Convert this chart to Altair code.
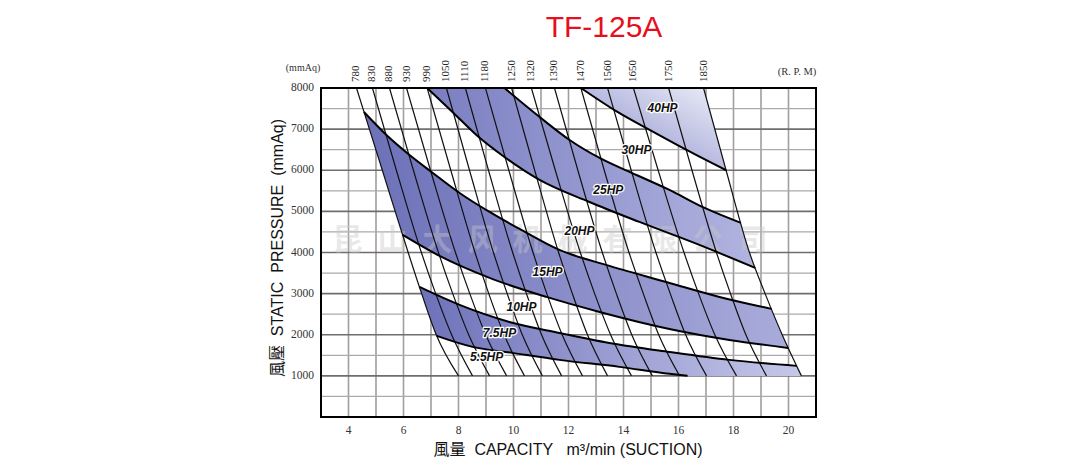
import altair as alt
import pandas as pd

# ---------------- data ----------------
title_text = "TF-125A"
x_title = "風量\u00a0\u00a0CAPACITY\u00a0\u00a0\u00a0m³/min (SUCTION)"
y_title = "風壓\u00a0\u00a0STATIC\u00a0\u00a0PRESSURE\u00a0\u00a0(mmAq)"

rpm_labels = [780, 830, 880, 930, 990, 1050, 1110, 1180, 1250, 1320, 1390, 1470, 1560, 1650, 1750, 1850]
rpm_y = [8000, 6000, 4000, 3000, 2000, 1000]
rpm_x = [
    [4.29, 5.23, 6.17, 6.66, 7.19, 8.00],
    [4.87, 5.74, 6.65, 7.17, 7.75, 8.51],
    [5.49, 6.36, 7.27, 7.79, 8.37, 9.13],
    [6.11, 6.98, 7.89, 8.41, 8.99, 9.75],
    [6.86, 7.72, 8.60, 9.10, 9.66, 10.40],
    [7.56, 8.40, 9.27, 9.77, 10.32, 11.05],
    [8.25, 9.09, 9.97, 10.47, 11.02, 11.75],
    [8.98, 9.83, 10.71, 11.21, 11.77, 12.51],
    [9.93, 10.77, 11.64, 12.14, 12.69, 13.42],
    [10.65, 11.52, 12.43, 12.95, 13.53, 14.29],
    [11.49, 12.34, 13.23, 13.74, 14.30, 15.05],
    [12.45, 13.30, 14.20, 14.72, 15.28, 16.04],
    [13.42, 14.28, 15.18, 15.70, 16.26, 17.02],
    [14.36, 15.26, 16.20, 16.73, 17.32, 18.11],
    [15.64, 16.49, 17.38, 17.89, 18.45, 19.20],
    [16.91, 17.73, 18.58, 19.15, 19.77, 20.47],
]

hp40_lo_x = [12.45, 13.78, 14.95, 16.29, 17.73]
hp40_lo_y = [8000, 7417, 6979, 6493, 6000]
hp25_up_x = [9.67, 10.95, 12.04, 13.13, 14.47, 15.67, 16.95, 18.27]
hp25_up_y = [8000, 7295, 6736, 6299, 5885, 5521, 5083, 4719]
hp25_lo_x = [6.86, 7.78, 8.65, 9.67, 10.95, 12.76, 14.58, 16.76, 18.79]
hp25_lo_y = [8000, 7417, 6858, 6323, 5764, 5229, 4743, 4184, 3625]
hp15_up_x = [4.56, 5.38, 6.22, 7.02, 8.04, 9.13, 10.22, 11.67, 13.49, 15.67, 17.49, 19.38]
hp15_up_y = [7417, 6858, 6371, 5958, 5448, 4986, 4573, 4062, 3674, 3260, 2920, 2629]
hp15_lo_x = [5.97, 7.31, 9.13, 11.20, 13.13, 15.67, 17.85, 19.99]
hp15_lo_y = [4427, 3917, 3382, 2920, 2555, 2142, 1875, 1680]
hp7_up_x = [6.58, 8.04, 9.85, 11.67, 13.49, 15.67, 17.85, 20.30]
hp7_up_y = [3163, 2726, 2312, 2045, 1802, 1583, 1389, 1243]
hp7_lo_x = [7.21, 8.51, 9.96, 11.67, 13.85, 15.67, 16.33]
hp7_lo_y = [1972, 1705, 1559, 1389, 1219, 1049, 1000]

hp_labels = ["40HP", "30HP", "25HP", "20HP", "15HP", "10HP", "7.5HP", "5.5HP"]
hp_label_x = [15.42, 14.47, 13.45, 12.40, 11.24, 10.29, 9.49, 9.02]
hp_label_y = [7514, 6493, 5521, 4524, 3527, 2677, 2045, 1462]

x_ticks = [4, 6, 8, 10, 12, 14, 16, 18, 20]
y_ticks = [1000, 2000, 3000, 4000, 5000, 6000, 7000, 8000]
x_grid = list(range(4, 21))
y_grid_minor = [500, 1500, 2500, 3500, 4500, 5500, 6500, 7500]

watermark = "昆\u2002山\u2002大\u2002风\u2002机\u2002械\u2002有\u2002限\u2002公\u2002司"

# ---------------- tables ----------------
W, H = 495, 329
xs = alt.Scale(domain=[3, 21], nice=False, zero=False)
ys = alt.Scale(domain=[0, 8000], nice=False, zero=False)

rpm_rows = []
for lab, xsr in zip(rpm_labels, rpm_x):
    for k, (xv, yv) in enumerate(zip(xsr, rpm_y)):
        rpm_rows.append({"rpm": lab, "ord": k, "x": xv, "y": yv})
rpm_df = pd.DataFrame(rpm_rows)
rpm_top_df = pd.DataFrame({"rpm": [str(r) for r in rpm_labels], "x": [r[0] for r in rpm_x]})

curves = {
    "c40lo": (hp40_lo_x, hp40_lo_y), "c25up": (hp25_up_x, hp25_up_y),
    "c25lo": (hp25_lo_x, hp25_lo_y), "c15up": (hp15_up_x, hp15_up_y),
    "c15lo": (hp15_lo_x, hp15_lo_y), "c7up": (hp7_up_x, hp7_up_y),
    "c7lo": (hp7_lo_x, hp7_lo_y),
}
curve_rows = []
for name, (cx, cy) in curves.items():
    for k, (xv, yv) in enumerate(zip(cx, cy)):
        curve_rows.append({"curve": name, "ord": k, "x": xv, "y": yv})
curve_df = pd.DataFrame(curve_rows)


def line_pts(i, ylo, yhi):
    return [(xv, yv) for xv, yv in zip(rpm_x[i], rpm_y) if ylo < yv < yhi]


LO, HI = 0, len(rpm_labels) - 1
band40 = [(rpm_x[HI][0], 8000)] + line_pts(HI, 6000, 8000) + list(zip(hp40_lo_x, hp40_lo_y))[::-1]
band25 = list(zip(hp25_up_x, hp25_up_y)) + line_pts(HI, 3625, 4719) + list(zip(hp25_lo_x, hp25_lo_y))[::-1]
band15 = (list(zip(hp15_up_x, hp15_up_y)) + line_pts(HI, 1680, 2629)
          + list(zip(hp15_lo_x, hp15_lo_y))[::-1] + line_pts(LO, 4427, 7417)[::-1])
band7 = (list(zip(hp7_up_x, hp7_up_y)) + line_pts(HI, 999, 1243)
         + list(zip(hp7_lo_x, hp7_lo_y))[::-1] + line_pts(LO, 1972, 3163)[::-1])


def poly_df(pts):
    return pd.DataFrame([{"ord": k, "x": xv, "y": yv} for k, (xv, yv) in enumerate(pts)])


def grad(c0, c1, x1=0, y1=0, x2=1, y2=0):
    return alt.Gradient(gradient="linear",
                        stops=[alt.GradientStop(offset=0, color=c0), alt.GradientStop(offset=1, color=c1)],
                        x1=x1, y1=y1, x2=x2, y2=y2)


def X():
    return alt.X("x:Q", scale=xs, axis=None)


def Y():
    return alt.Y("y:Q", scale=ys, axis=None)


one = pd.DataFrame({"t": [""]})
SERIF = "Liberation Serif"
SANS_CJK = "Liberation Sans, Noto Sans CJK TC"

# ---------------- layers ----------------
vgrid = alt.Chart(pd.DataFrame({"x": x_grid})).mark_rule(color="#a39d9d", strokeWidth=1.6).encode(x=X())
hgrid_minor = alt.Chart(pd.DataFrame({"y": y_grid_minor})).mark_rule(color="#aaaaaa", strokeWidth=1.2).encode(y=Y())
hgrid_major = alt.Chart(pd.DataFrame({"y": y_ticks})).mark_rule(color="#6e6e6e", strokeWidth=1.6).encode(y=Y())

xlab = alt.Chart(pd.DataFrame({"x": x_ticks, "t": [str(v) for v in x_ticks]})).mark_text(
    font=SERIF, fontSize=11.5, color="#333", align="center", baseline="middle").encode(
    x=X(), y=alt.value(H + 14), text="t:N")
ylab = alt.Chart(pd.DataFrame({"y": y_ticks, "t": [str(v) for v in y_ticks]})).mark_text(
    font=SERIF, fontSize=11.5, color="#333", align="right", baseline="middle").encode(
    x=alt.value(-7), y=Y(), text="t:N")
xtitle = alt.Chart(one).mark_text(text=x_title, font=SANS_CJK, fontSize=16, color="#111",
                                  align="center", baseline="middle").encode(x=alt.value(247), y=alt.value(H + 33))
ytitle = alt.Chart(one).mark_text(text=y_title, font=SANS_CJK, fontSize=16, color="#111", angle=270,
                                  align="center", baseline="middle").encode(x=alt.value(-43), y=alt.value(160))


def band_layer(pts, g):
    return alt.Chart(poly_df(pts)).mark_line(fill=g, strokeOpacity=0, strokeWidth=0, interpolate="linear").encode(
        x=X(), y=Y(), order="ord:Q")


b40 = band_layer(band40, grad("#8286c6", "#eef0f9", 0, 1, 1, 0))
b25 = band_layer(band25, grad("#7a7ec1", "#b1b4df"))
b15 = band_layer(band15, grad("#6c70b8", "#a9acda"))
b7 = band_layer(band7, grad("#6d71b9", "#c6c8e9"))

wm = alt.Chart(one).mark_text(text=watermark, font="Noto Sans CJK SC", fontSize=30, fontWeight="bold",
                              color="#c8c8c8", opacity=0.4, align="center", baseline="middle").encode(
    x=alt.value(229), y=alt.value(153))

rpm_lines = alt.Chart(rpm_df).mark_line(color="#111", strokeWidth=1.2, interpolate="monotone").encode(
    x=X(), y=Y(), detail="rpm:N", order="ord:Q")
hp_lines = alt.Chart(curve_df).mark_line(color="#000", strokeWidth=2, interpolate="monotone").encode(
    x=X(), y=Y(), detail="curve:N", order="ord:Q")

lab_df = pd.DataFrame({"t": hp_labels, "x": hp_label_x, "y": hp_label_y})
lab_halo = alt.Chart(lab_df).mark_text(font="Liberation Sans", fontSize=12, fontWeight="bold", fontStyle="italic",
                                       stroke="white", strokeWidth=2.5, strokeJoin="round", color="white").encode(
    x=X(), y=Y(), text="t:N")
lab_txt = alt.Chart(lab_df).mark_text(font="Liberation Sans", fontSize=12, fontWeight="bold", fontStyle="italic",
                                      color="#111").encode(x=X(), y=Y(), text="t:N")

rpm_top = alt.Chart(rpm_top_df).mark_text(font=SERIF, fontSize=11, color="#222", angle=270,
                                          align="left", baseline="middle").encode(
    x=X(), y=alt.value(-6), text="rpm:N")

unit_l = alt.Chart(one).mark_text(text="(mmAq)", font=SERIF, fontSize=10, color="#333").encode(
    x=alt.value(-18), y=alt.value(-20))
unit_r = alt.Chart(one).mark_text(text="(R. P. M)", font=SERIF, fontSize=10.5, color="#333").encode(
    x=alt.value(476), y=alt.value(-16))
title = alt.Chart(one).mark_text(text=title_text, font="Liberation Sans", fontSize=30, color="#e60f1e",
                                 align="center", baseline="middle").encode(x=alt.value(283), y=alt.value(-60))

border = alt.Chart(one).mark_rect(fillOpacity=0, stroke="#000", strokeWidth=2).encode(
    x=alt.value(0), x2=alt.value(W), y=alt.value(0), y2=alt.value(H))

chart = alt.layer(
    vgrid, hgrid_minor, hgrid_major, b40, b25, b15, b7, wm, rpm_lines, hp_lines,
    lab_halo, lab_txt, rpm_top, unit_l, unit_r, title, xlab, ylab, xtitle, ytitle, border
).properties(
    width=W, height=H,
    autosize=alt.AutoSizeParams(type="none"),
    padding={"left": 313, "top": 80, "right": 250, "bottom": 55},
).configure_view(stroke=None).configure(background="white")

chart.save("out.html", embed_options={"renderer": "svg", "actions": False})
